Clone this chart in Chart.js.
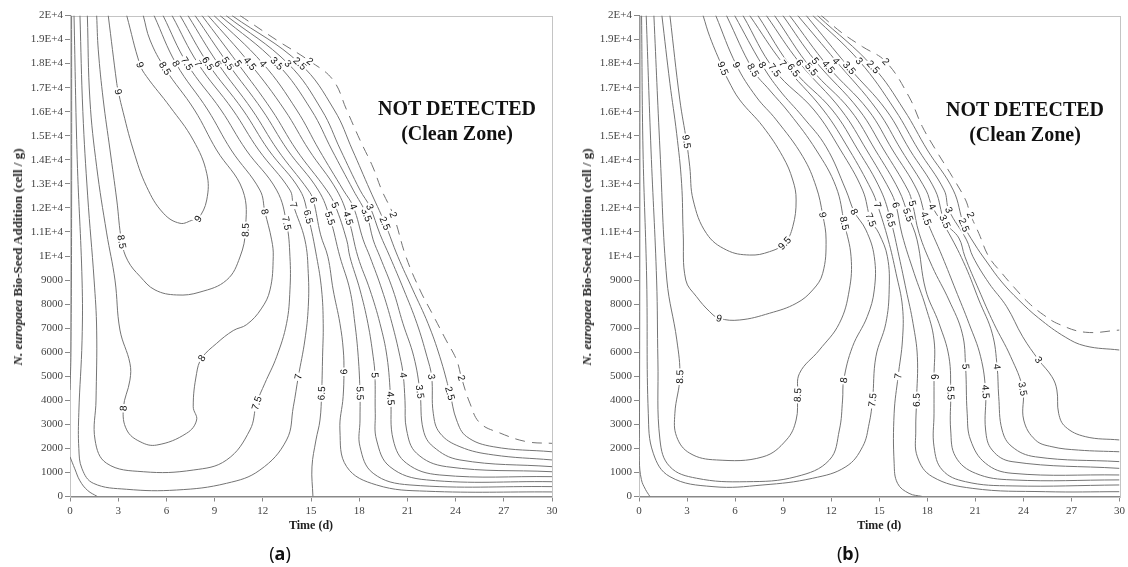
<!DOCTYPE html>
<html>
<head>
<meta charset="utf-8">
<script src="https://cdn.jsdelivr.net/npm/chart.js@4.4.1/dist/chart.umd.min.js"></script>
<style>
  body { margin: 0; background: #fff; }
  #wrap { position: relative; width: 1128px; height: 567px; overflow: hidden; }
  canvas { position: absolute; top: 0; }
  .ytitle { position: absolute; white-space: nowrap; font: bold 13px "Liberation Serif", "Times New Roman", serif; color: #222;
            transform: translate(-50%, -50%) rotate(-90deg); }
  .panel { position: absolute; font: 18px "Noto Sans", sans-serif; color: #111; transform: translate(-50%, -50%); }
  .zone { position: absolute; text-align: center; font: bold 20px "Liberation Serif", "Times New Roman", serif;
          line-height: 25px; color: #111; transform: translateX(-50%); white-space: nowrap; }
</style>
</head>
<body>
<div id="wrap">
  <canvas id="chartA" width="564" height="567" style="left:0"></canvas>
  <canvas id="chartB" width="564" height="567" style="left:564px"></canvas>
  <div class="ytitle" style="left:18px; top:257px"><i>N. europaea</i> Bio-Seed Addition (cell / g)</div>
  <div class="ytitle" style="left:587px; top:257px"><i>N. europaea</i> Bio-Seed Addition (cell / g)</div>
  <div class="zone" style="left:457px; top:96px">NOT DETECTED<br>(Clean Zone)</div>
  <div class="zone" style="left:1025px; top:97px">NOT DETECTED<br>(Clean Zone)</div>
  <div class="panel" style="left:280px; top:553px">(<b>a</b>)</div>
  <div class="panel" style="left:848px; top:553px">(<b>b</b>)</div>
</div>
<script>
// axis ticks
const xTickLabels = ['0', '3', '6', '9', '12', '15', '18', '21', '24', '27', '30'];
const yTickLabels = ['0', '1000', '2000', '3000', '4000', '5000', '6000', '7000', '8000', '9000',
  '1E+4', '1.1E+4', '1.2E+4', '1.3E+4', '1.4E+4', '1.5E+4', '1.6E+4', '1.7E+4', '1.8E+4', '1.9E+4', '2E+4'];

// ---- panel (a) contour lines, [time (d), cell/g] ----
const A_9 = [[2.38,20000],[2.91,17180],[3.01,16830],[3.22,16210],[3.94,14410],[4.77,12880],[5.81,11780],[6.85,11360],[7.67,11500],[7.98,11540],[8.51,12330],[8.51,13440],[7.67,14820],[6.22,16210],[4.77,17460],[4.36,17950],[3.53,20000]];
const A_85 = [[1.66,20000],[1.76,18570],[2.07,16490],[2.49,14410],[2.91,12330],[3.22,10590],[3.6,9800],[4.36,9150],[5.29,8590],[6.64,8380],[8.09,8500],[9.75,9000],[10.58,9960],[10.92,11080],[10.75,12740],[9.12,14410],[7.75,16070],[5.91,17800],[4.98,18980],[4.56,20000]];
const A_8 = [[1.08,20000],[1.24,16490],[1.66,13710],[2.28,10960],[2.8,9000],[3.11,6920],[3.73,5540],[3.73,4840],[3.32,3670],[3.53,2770],[4.36,2280],[5.4,2140],[7.26,2630],[7.88,3180],[7.67,3730],[7.88,5120],[8.2,5750],[9.13,6370],[10.16,6900],[11.0,7150],[11.9,7800],[12.45,8590],[12.65,9970],[12.55,10670],[12.13,11840],[11.82,12740],[10.03,14410],[8.58,16070],[6.6,18000],[5.23,20000]];
const A_75 = [[0.62,20000],[0.8,16000],[1.1,12500],[1.5,9000],[1.66,6920],[1.62,4010],[1.56,2350],[2.28,1380],[4.56,1030],[7.67,1100],[9.75,1520],[11.2,2765],[11.62,3880],[12.13,4710],[12.86,5810],[13.48,7200],[13.69,8590],[13.69,9970],[13.48,11360],[12.86,12740],[10.96,14410],[9.4,16070],[7.28,18000],[5.79,20000]];
const A_7 = [[0.25,20000],[0.45,14000],[0.75,9000],[0.75,6500],[0.55,3500],[0.55,2000],[0.75,1150],[1.45,550],[3.53,300],[6.64,270],[9.75,550],[11.82,1100],[13.48,2350],[13.9,3730],[14.21,4980],[14.62,6510],[14.83,7890],[14.83,9280],[14.62,10670],[13.9,12120],[13.69,12740],[11.74,14410],[10.14,16070],[7.97,18000],[6.35,20000]];
const A_65 = [[6.85,20000],[8.59,18000],[10.77,16070],[12.36,14410],[14.31,12740],[14.83,11630],[15.35,9970],[15.66,8590],[15.76,7200],[15.72,5810],[15.66,4290],[15.56,3180],[15.31,2350],[15.06,1230],[15.12,0]];
const A_6 = [[7.34,20000],[9.21,18000],[11.34,16070],[12.92,14410],[14.83,12740],[15.14,12330],[15.6,10880],[16.05,9970],[16.38,8590],[16.8,7200],[17.01,6090],[17.05,5190],[17.0,4150],[16.8,2765],[17.22,1240],[19.08,480],[22.2,220],[30,190]];
const A_55 = [[7.78,20000],[9.83,18000],[11.97,16070],[13.54,14410],[15.45,12740],[16.18,11570],[16.8,9970],[17.42,8590],[17.73,7200],[17.94,5810],[18.05,4290],[18.05,3180],[18.05,2070],[18.87,965],[21.16,480],[30,410]];
const A_5 = [[8.21,20000],[10.45,18000],[12.55,16070],[14.09,14410],[15.97,12740],[16.49,12120],[17.22,10670],[17.42,9970],[18.05,8590],[18.54,7200],[18.87,5810],[18.98,5050],[19.0,3460],[19.08,2350],[19.91,1240],[22.2,690],[30,615]];
const A_45 = [[8.59,20000],[11.2,18000],[13.36,16070],[14.87,14410],[16.6,12740],[17.32,11570],[17.92,9970],[18.67,8590],[19.29,7200],[19.73,5810],[19.96,4080],[20.12,2350],[20.95,1380],[23.02,895],[30,825]];
const A_4 = [[8.96,20000],[12.01,18000],[14.11,16070],[15.51,14410],[17.01,12740],[17.63,12050],[18.25,10670],[18.67,9970],[19.42,8590],[20.04,7200],[20.54,5810],[20.74,5050],[20.85,4000],[20.95,2765],[21.57,1800],[23.44,1240],[30,1030]];
const A_35 = [[9.33,20000],[12.88,18000],[15.02,16070],[16.3,14410],[17.63,12740],[18.46,11710],[18.87,10670],[19.29,9970],[20.1,8590],[20.72,7200],[21.4,5810],[21.78,4360],[21.99,2765],[22.61,2070],[24.27,1520],[30,1240]];
const A_3 = [[9.71,20000],[13.57,18000],[15.67,16070],[16.84,14410],[18.05,12740],[18.67,12040],[19.3,10900],[19.91,9970],[20.78,8590],[21.59,7200],[22.22,5810],[22.51,4980],[22.61,3460],[23.02,2640],[24.27,2070],[26.34,1730],[30,1520]];
const A_25 = [[10.08,20000],[14.31,18000],[16.45,16070],[17.58,14410],[18.67,12740],[19.6,11360],[20.41,9970],[21.34,8590],[22.28,7200],[23.02,5810],[23.65,4290],[24.06,3180],[24.69,2490],[26.34,2070],[30,1860]];
const A_2 = [[10.58,20000],[12.88,18970],[14.93,18100],[16.37,17320],[17.22,16070],[18.05,14820],[18.85,13700],[19.4,12740],[20.12,11710],[20.91,9970],[21.78,8590],[22.59,7550],[23.4,6510],[24.06,5680],[24.37,4930],[24.89,3880],[25.51,3060],[26.76,2640],[28.42,2280],[30,2210]];
const A_edgeTop = [[0.1,20000],[0.1,12000],[0.06,6000],[0,4430]];
const A_edgeLow = [[0,1650],[0.3,1150],[0.62,650],[1.1,250],[1.7,0]];

const labelsA = [
  ['9',3.01,16830],['9',7.98,11540],['9',4.36,17950],
  ['8.5',3.22,10590],['8.5',10.92,11080],['8.5',5.91,17800],
  ['8',3.32,3670],['8',8.2,5750],['8',12.13,11840],['8',6.6,18000],
  ['7.5',11.62,3880],['7.5',13.48,11360],['7.5',7.28,18000],
  ['7',14.21,4980],['7',13.9,12120],['7',7.97,18000],
  ['6.5',15.66,4290],['6.5',14.83,11630],['6.5',8.59,18000],
  ['6',17.05,5190],['6',15.14,12330],['6',9.21,18000],
  ['5.5',18.05,4290],['5.5',16.18,11570],['5.5',9.83,18000],
  ['5',18.98,5050],['5',16.49,12120],['5',10.45,18000],
  ['4.5',19.96,4080],['4.5',17.32,11570],['4.5',11.2,18000],
  ['4',20.74,5050],['4',17.63,12050],['4',12.01,18000],
  ['3.5',21.78,4360],['3.5',18.46,11710],['3.5',12.88,18000],
  ['3',22.51,4980],['3',18.67,12040],['3',13.57,18000],
  ['2.5',23.65,4290],['2.5',19.6,11360],['2.5',14.31,18000],
  ['2',24.37,4930],['2',20.12,11710],['2',14.93,18100]
];

// ---- panel (b) contour lines ----
const B_95 = [[4.0,20000],[4.42,19120],[5.24,17800],[5.56,17320],[6.29,16490],[7.74,15380],[8.98,14130],[9.6,13160],[9.81,12330],[9.6,11220],[9.09,10530],[8.15,10180],[6.91,10040],[5.46,10250],[4.21,10940],[3.38,12330],[3.17,13710],[2.97,14750],[2.55,16490],[1.93,20000]];
const B_9 = [[1.43,20000],[1.93,17180],[2.35,15100],[2.66,13020],[2.76,10940],[2.92,9000],[3.59,8310],[4.42,7680],[5.0,7410],[6.29,7340],[8.15,7620],[9.81,8030],[10.85,8590],[11.47,9280],[11.68,10670],[11.47,11710],[11.06,12880],[10.23,14130],[8.57,15660],[7.32,16620],[6.08,17940],[4.79,20000]];
const B_85 = [[0.93,20000],[1.31,14410],[1.74,9000],[2.36,6510],[2.55,4980],[2.24,3460],[2.35,2490],[3.17,1800],[4.83,1520],[7.74,1650],[9.2,2350],[9.81,3180],[9.91,4220],[10.02,5120],[11.26,6090],[12.51,7200],[13.13,8590],[13.24,9970],[12.82,11360],[12.3,12880],[11.06,14410],[9.4,15930],[8.15,16900],[7.12,17730],[5.46,20000]];
const B_8 = [[0.45,20000],[0.75,14410],[1.1,9000],[1.18,5680],[1.31,2350],[1.93,1240],[3.59,760],[6.7,615],[9.81,825],[11.89,1520],[12.51,2765],[12.71,4010],[12.78,4840],[13.33,6230],[14.25,7480],[14.69,8590],[14.69,9970],[14.17,11080],[13.44,11840],[12.92,12740],[11.68,14540],[10.22,15790],[8.77,16900],[7.69,17940],[5.97,20000]];
const B_75 = [[0.16,20000],[0.25,14410],[0.48,9000],[0.58,3460],[0.89,1800],[1.93,825],[4.62,410],[7.74,480],[10.85,760],[12.92,1240],[13.96,2070],[14.37,3040],[14.58,4010],[14.79,5810],[15.41,7200],[15.62,8590],[15.51,9970],[14.98,10940],[14.47,11500],[13.96,12740],[12.58,14410],[10.93,16070],[8.46,17730],[6.49,20000]];
const B_7 = [[6.91,20000],[8.98,18010],[11.51,16070],[13.13,14410],[14.52,12740],[14.89,12120],[15.56,10670],[16.05,9280],[16.45,7890],[16.45,6510],[16.18,5010],[15.93,3460],[15.93,1380],[16.14,550],[16.86,130],[17.69,0]];
const B_65 = [[7.42,20000],[9.65,17730],[12.07,16070],[13.67,14410],[15.09,12740],[15.71,11500],[16.24,9970],[16.68,8590],[17.11,7200],[17.38,5810],[17.33,4010],[17.28,2765],[17.38,1650],[18.31,825],[20.8,340],[25.37,200],[30,200]];
const B_6 = [[7.95,20000],[10.02,18040],[12.63,16070],[14.21,14410],[15.66,12740],[16.04,12120],[16.43,10880],[17.18,9280],[17.9,7890],[18.42,6510],[18.42,4980],[18.42,3460],[18.42,2070],[18.94,1100],[20.39,615],[23.29,440],[30,480]];
const B_55 = [[8.46,20000],[10.77,17770],[13.19,16070],[14.75,14410],[16.22,12740],[16.8,11710],[17.36,10670],[17.9,8590],[18.73,7200],[19.35,5810],[19.46,4300],[19.46,2765],[19.77,1650],[21.01,965],[23.29,690],[30,690]];
const B_5 = [[8.98,20000],[11.01,18110],[13.75,16070],[15.29,14410],[16.79,12740],[17.07,12190],[17.49,10940],[18.31,9560],[19.35,8170],[20.18,6790],[20.39,5400],[20.49,3460],[20.7,2350],[21.64,1380],[23.29,965],[30,895]];
const B_45 = [[9.4,20000],[11.83,17860],[14.31,16070],[15.83,14410],[17.36,12740],[17.92,11570],[18.94,9970],[19.77,8590],[20.6,7200],[21.33,5810],[21.64,4360],[21.64,2765],[22.05,1930],[23.29,1450],[30,1170]];
const B_4 = [[9.91,20000],[12.3,18110],[14.87,16070],[16.37,14410],[17.92,12740],[18.31,12050],[19.35,10940],[20.39,9560],[21.22,8170],[22.05,6790],[22.36,5400],[22.46,4150],[22.67,2765],[23.29,2070],[24.75,1650],[30,1450]];
const B_35 = [[10.44,20000],[13.13,17820],[15.43,16070],[16.91,14410],[18.49,12740],[19.1,11430],[19.97,10750],[20.35,9970],[21.22,8590],[22.15,7200],[23.21,5810],[23.96,4470],[24.02,3180],[24.75,2350],[25.78,2070],[27.44,1930],[30,1860]];
const B_3 = [[10.85,20000],[13.75,18110],[15.99,16070],[17.45,14410],[19.05,12740],[19.35,11910],[20.45,10670],[20.85,9970],[21.84,8880],[22.96,7890],[23.96,6640],[24.95,5680],[25.78,4980],[26.09,4430],[26.2,3460],[26.62,2900],[27.86,2490],[30,2350]];
const B_25 = [[11.14,20000],[14.62,17860],[16.55,16070],[18.0,14410],[19.62,12740],[20.29,11290],[20.91,10540],[21.72,9750],[22.65,8920],[23.71,8170],[24.95,7420],[26.61,6630],[27.86,6260],[30,6090]];
const B_2 = [[11.37,20000],[12.71,19260],[13.96,18700],[15.41,18080],[16.86,16620],[17.69,15380],[18.53,14410],[19.56,13300],[20.39,12330],[20.7,11710],[21.22,10940],[21.84,9970],[22.65,9290],[23.4,8710],[24.33,8050],[25.26,7550],[26.2,7170],[27.86,6830],[30,6920]];
const B_edge = [[0.06,20000],[0.05,10000],[0.03,3000],[0.02,1500],[0.15,700],[0.4,300],[0.68,0]];

const labelsB = [
  ['9.5',2.97,14750],['9.5',9.09,10530],['9.5',5.24,17800],
  ['9',5.0,7410],['9',11.47,11710],['9',6.08,17940],
  ['8.5',2.55,4980],['8.5',9.91,4220],['8.5',12.82,11360],['8.5',7.12,17730],
  ['8',12.78,4840],['8',13.44,11840],['8',7.69,17940],
  ['7.5',14.58,4010],['7.5',14.47,11500],['7.5',8.46,17730],
  ['7',16.18,5010],['7',14.89,12120],['7',8.98,18010],
  ['6.5',17.33,4010],['6.5',15.71,11500],['6.5',9.65,17730],
  ['6',18.42,4980],['6',16.04,12120],['6',10.02,18040],
  ['5.5',19.46,4300],['5.5',16.8,11710],['5.5',10.77,17770],
  ['5',20.39,5400],['5',17.07,12190],['5',11.01,18110],
  ['4.5',21.64,4360],['4.5',17.92,11570],['4.5',11.83,17860],
  ['4',22.36,5400],['4',18.31,12050],['4',12.3,18110],
  ['3.5',23.96,4470],['3.5',19.1,11430],['3.5',13.13,17820],
  ['3',24.95,5680],['3',19.35,11910],['3',13.75,18110],
  ['2.5',20.29,11290],['2.5',14.62,17860],
  ['2',20.7,11710],['2',15.41,18080]
];

// light frame round the plot area
const frameBox = {
  id: 'frameBox',
  beforeDatasetsDraw(chart) {
    const {ctx, chartArea: a} = chart;
    ctx.save();
    ctx.strokeStyle = '#c4c4c4';
    ctx.lineWidth = 1;
    ctx.strokeRect(Math.round(a.left) + 0.5, Math.round(a.top) + 0.5, Math.round(a.right - a.left), Math.round(a.bottom - a.top));
    ctx.restore();
  }
};

// inline contour values, rotated along the line, with a white gap
const contourLabels = {
  id: 'contourLabels',
  afterDatasetsDraw(chart, args, opts) {
    const {ctx, scales: {x, y}} = chart;
    ctx.save();
    ctx.font = '10px "Liberation Sans", Arial, sans-serif';
    ctx.textAlign = 'center';
    ctx.textBaseline = 'middle';
    opts.labels.forEach(([lev, t, n]) => {
      const ds = chart.data.datasets.find(d => d.label === lev);
      if (!ds) return;
      const px = x.getPixelForValue(t), py = y.getPixelForValue(n);
      let best = 0, bd = Infinity;
      ds.data.forEach((p, i) => {
        const d = (x.getPixelForValue(p.x) - px) ** 2 + (y.getPixelForValue(p.y) - py) ** 2;
        if (d < bd) { bd = d; best = i; }
      });
      const p0 = ds.data[Math.max(best - 1, 0)], p1 = ds.data[Math.min(best + 1, ds.data.length - 1)];
      let ang = Math.atan2(y.getPixelForValue(p1.y) - y.getPixelForValue(p0.y), x.getPixelForValue(p1.x) - x.getPixelForValue(p0.x));
      if (ang > Math.PI / 2) ang -= Math.PI;
      if (ang < -Math.PI / 2) ang += Math.PI;
      const w = ctx.measureText(lev).width + 3;
      ctx.save();
      ctx.translate(px, py);
      ctx.rotate(ang);
      ctx.fillStyle = '#fff';
      ctx.fillRect(-w / 2, -5, w, 10);
      ctx.fillStyle = '#111';
      ctx.fillText(lev, 0, 0.5);
      ctx.restore();
    });
    ctx.restore();
  }
};

const serif = '"Liberation Serif", "Times New Roman", serif';

function contourChart(id, levels, labels, yWidth, padRight) {
  const datasets = levels.map(([lev, pts]) => ({
    label: lev,
    data: pts.map(([t, n]) => ({x: t, y: n})),
    showLine: true,
    borderColor: '#747474',
    borderWidth: 1,
    borderDash: lev === '2' ? [10, 7] : [],
    pointRadius: 0,
    tension: 0.4
  }));

  return new Chart(document.getElementById(id), {
    type: 'scatter',
    data: { datasets },
    options: {
      responsive: false,
      animation: false,
      layout: { padding: { left: 0, right: padRight, top: 15.5, bottom: 0 } },
      plugins: {
        legend: { display: false },
        tooltip: { enabled: false },
        contourLabels: { labels }
      },
      scales: {
        x: {
          type: 'linear', min: 0, max: 30,
          afterFit: s => { s.height = 70.5; },
          ticks: { stepSize: 3, autoSkip: false, maxRotation: 0, padding: 3, color: '#444',
                   font: { family: serif, size: 11 }, callback: (v, i) => xTickLabels[i] },
          grid: { drawOnChartArea: false, tickLength: 5, color: '#888' },
          border: { color: '#888' },
          title: { display: true, text: 'Time (d)', color: '#222',
                   font: { family: serif, size: 12, weight: 'bold' }, padding: { top: 0, bottom: 34 } }
        },
        y: {
          type: 'linear', min: 0, max: 20000,
          afterFit: s => { s.width = yWidth; },
          ticks: { stepSize: 1000, autoSkip: false, padding: 2, color: '#444',
                   font: { family: serif, size: 11 }, callback: (v, i) => yTickLabels[i] },
          grid: { drawOnChartArea: false, tickLength: 5, color: '#888' },
          border: { color: '#888' }
        }
      }
    },
    plugins: [frameBox, contourLabels]
  });
}

contourChart('chartA', [
  ['', A_edgeTop], ['', A_edgeLow],
  ['9', A_9], ['8.5', A_85], ['8', A_8], ['7.5', A_75], ['7', A_7], ['6.5', A_65], ['6', A_6],
  ['5.5', A_55], ['5', A_5], ['4.5', A_45], ['4', A_4], ['3.5', A_35], ['3', A_3], ['2.5', A_25], ['2', A_2]
], labelsA, 70, 12);

contourChart('chartB', [
  ['', B_edge],
  ['9.5', B_95], ['9', B_9], ['8.5', B_85], ['8', B_8], ['7.5', B_75], ['7', B_7], ['6.5', B_65], ['6', B_6],
  ['5.5', B_55], ['5', B_5], ['4.5', B_45], ['4', B_4], ['3.5', B_35], ['3', B_3], ['2.5', B_25], ['2', B_2]
], labelsB, 75, 7.3);
</script>
</body>
</html>
